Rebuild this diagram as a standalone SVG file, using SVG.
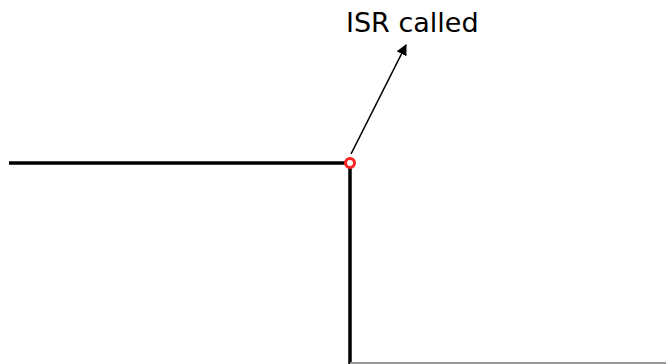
<svg xmlns="http://www.w3.org/2000/svg" width="666" height="364" viewBox="0 0 666 364">
<style>
.ln{stroke:#000;stroke-width:3.5;fill:none}
.lbl{font-family:"DejaVu Sans",sans-serif;font-size:27px;fill:#000}
</style>
<defs>
<marker id="ah" viewBox="0 0 10 10" refX="9" refY="5" markerWidth="11" markerHeight="11" markerUnits="userSpaceOnUse" orient="auto">
<path d="M0,0 L10,5 L0,10 z" fill="#000"/>
</marker>
</defs>
<rect width="666" height="364" fill="#fff"/>
<g id="signal">
<path class="ln" d="M9,163 H350 V364"/>
<path d="M350,363 H666" stroke="#999" stroke-width="2" fill="none"/>
</g>
<g id="connectors">
<path d="M351,154 L406,45" stroke="#000" stroke-width="1.6" fill="none" marker-end="url(#ah)"/>
</g>
<g id="event">
<circle cx="350" cy="163" r="4.5" fill="#fff" stroke="#f22" stroke-width="3"/>
</g>
<g id="label">
<text class="lbl" x="346" y="32">ISR called</text>
</g>
</svg>
